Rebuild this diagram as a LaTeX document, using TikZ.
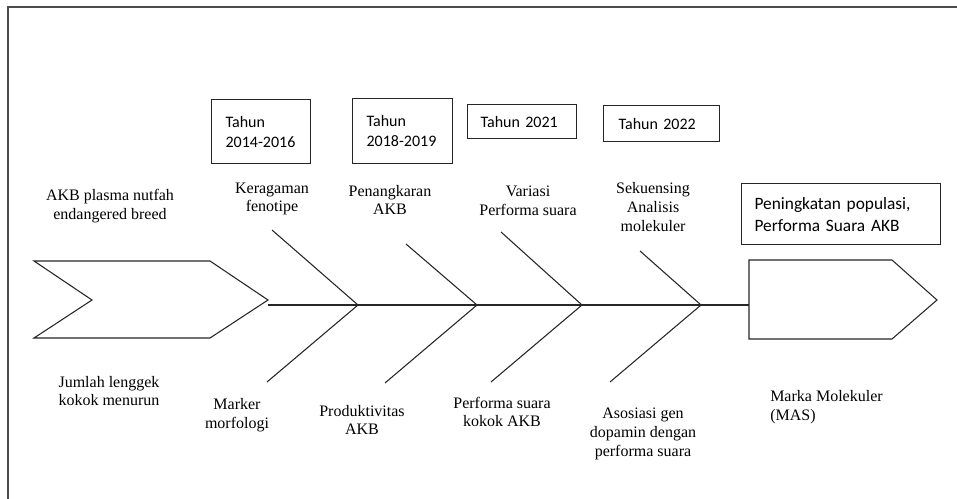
\documentclass[tikz,border=0pt]{standalone}
\usepackage{fontspec}
\setmainfont{Liberation Serif}
\newfontfamily\carlitofont{Carlito}
\begin{document}
\begin{tikzpicture}[x=0.75pt,y=-0.75pt,
  ln/.style={line width=0.8pt, draw=black!85},
  lab/.style={font=\fontsize{12}{14}\selectfont, align=center, inner sep=0pt},
  tbox/.style={draw=black!85, line width=0.9pt, anchor=north west, align=left,
    font=\carlitofont\fontsize{12}{15}\selectfont, inner ysep=0pt}]
\useasboundingbox (0,0) rectangle (957,499);
\fill[white] (0,0) rectangle (957,499);
% frame
\draw[ln, draw=black!70] (8,499) -- (8,7) -- (957,7);
% head and tail shapes
\draw[ln] (34,261) -- (210,261) -- (268,300) -- (210,338) -- (34,338) -- (92,300) -- cycle;
\draw[ln] (749,260) -- (892,260) -- (937,300) -- (892,339) -- (749,339) -- cycle;
\coordinate (head) at (268,305);
\coordinate (tail) at (749,305);
\draw[ln] (head) -- (tail);
% bones
\coordinate (j1) at (358,305);
\coordinate (j2) at (477,305);
\coordinate (j3) at (582,305);
\coordinate (j4) at (701,305);
\coordinate (u1) at (272,230);
\coordinate (u2) at (406,244);
\coordinate (u3) at (501,232);
\coordinate (u4) at (640,251);
\coordinate (l1) at (267,382);
\coordinate (l2) at (385,383);
\coordinate (l3) at (491,382);
\coordinate (l4) at (610,382);
\draw[ln] (u1) -- (j1) -- (l1);
\draw[ln] (u2) -- (j2) -- (l2);
\draw[ln] (u3) -- (j3) -- (l3);
\draw[ln] (u4) -- (j4) -- (l4);
% year boxes
\node[tbox, minimum width=74.25pt, minimum height=48pt, inner xsep=10.5pt, text width=53.25pt] (y1) at (211,99) {Tahun\\2014-2016};
\node[tbox, minimum width=75pt, minimum height=48.75pt, inner xsep=10.5pt, text width=54pt] (y2) at (352,98) {Tahun\\2018-2019};
\node[tbox, minimum width=81.75pt, minimum height=25.5pt, inner xsep=9.75pt, text width=62.25pt] (y3) at (467,104) {Tahun 2021};
\node[tbox, minimum width=87pt, minimum height=27pt, inner xsep=11.25pt, text width=64.5pt] (y4) at (603,105) {Tahun 2022};
\node[tbox, minimum width=149.25pt, minimum height=45.75pt, inner xsep=9.75pt, text width=129.75pt,
  font=\carlitofont\fontsize{13}{16.5}\selectfont] (res) at (741,183) {Peningkatan populasi,\\Performa Suara AKB};
% upper labels
\node[lab] (t0) at (110,206) {AKB plasma nutfah\\endangered breed};
\node[lab] (t1) at (272,199) {Keragaman\\fenotipe};
\node[lab] (t2) at (390,200) {Penangkaran\\AKB};
\node[lab] (t3) at (528,201) {Variasi\\Performa suara};
\node[lab] (t4) at (653,207) {Sekuensing\\Analisis\\molekuler};
% lower labels
\node[lab] (b0) at (109,391) {Jumlah lenggek\\kokok menurun};
\node[lab] (b1) at (237,415) {Marker\\morfologi};
\node[lab] (b2) at (362,420) {Produktivitas\\AKB};
\node[lab] (b3) at (502,412) {Performa suara\\kokok AKB};
\node[lab] (b4) at (643,434) {Asosiasi gen\\dopamin dengan\\performa suara};
\node[lab, align=left, anchor=west] (b5) at (770,407) {Marka Molekuler\\(MAS)};
\end{tikzpicture}
\end{document}
